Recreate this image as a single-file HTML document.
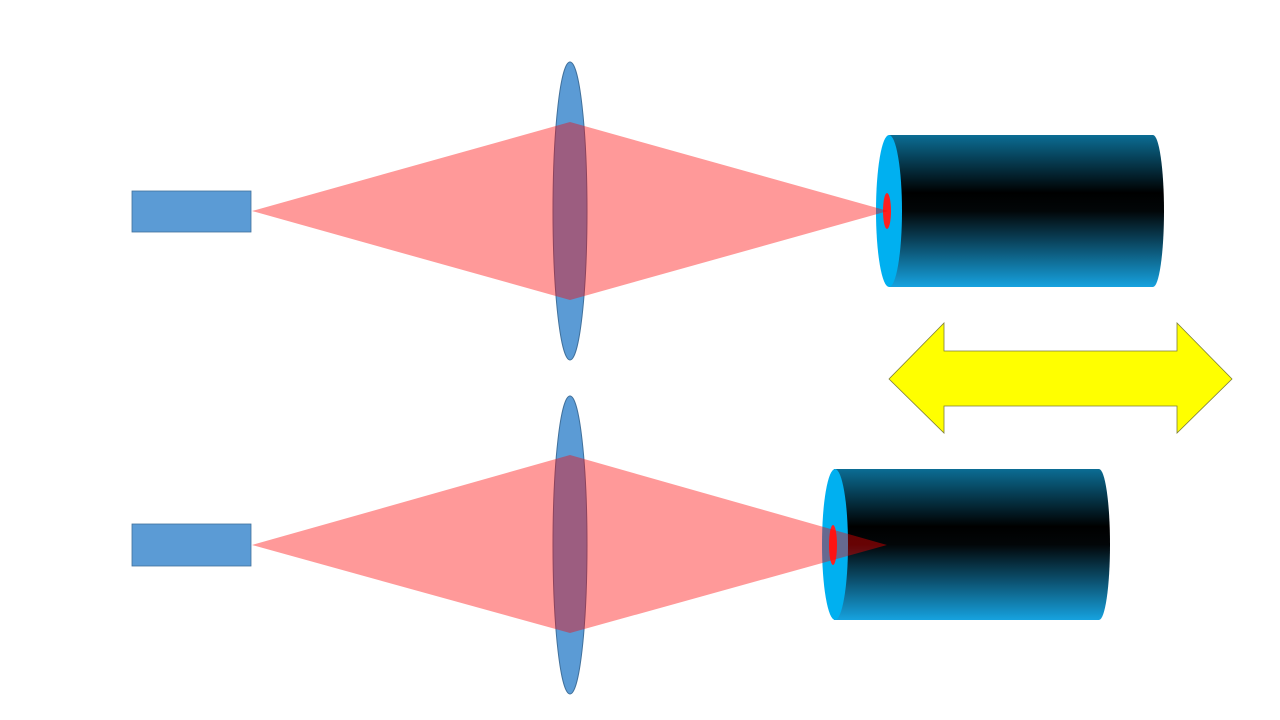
<!DOCTYPE html>
<html><head><meta charset="utf-8"><style>html,body{margin:0;padding:0;background:#fff}svg{display:block}</style></head>
<body>
<svg width="1280" height="720" viewBox="0 0 1280 720" xmlns="http://www.w3.org/2000/svg">
<defs>
<linearGradient id="cyl" x1="0" y1="0" x2="0" y2="1">
<stop offset="0" stop-color="#0b6d94"/>
<stop offset="0.38" stop-color="#000"/>
<stop offset="0.5" stop-color="#020608"/>
<stop offset="1" stop-color="#16a2df"/>
</linearGradient>
</defs>
<!-- sources -->
<rect x="132" y="191" width="119" height="41" fill="#5b9bd5" stroke="#41719c" stroke-width="0.8"/>
<rect x="132" y="524" width="119" height="42" fill="#5b9bd5" stroke="#41719c" stroke-width="0.8"/>
<!-- cylinders -->
<path d="M889,135 L1153,135 A11,76 0 0 1 1153,287 L889,287 Z" fill="url(#cyl)"/>
<ellipse cx="889" cy="211" rx="13" ry="76" fill="#00b0f0"/>
<ellipse cx="887" cy="211" rx="4" ry="18" fill="#ff2020"/>
<path d="M834,469 L1099,469 A11,75.5 0 0 1 1099,620 L834,620 Z" fill="url(#cyl)"/>
<ellipse cx="835" cy="544.5" rx="13" ry="75.5" fill="#00b0f0"/>
<ellipse cx="833" cy="545" rx="4" ry="20" fill="#ff2020"/>
<!-- lenses -->
<ellipse cx="570" cy="211" rx="17" ry="149" fill="#5b9bd5" stroke="#41719c" stroke-width="1"/>
<ellipse cx="570" cy="545" rx="17" ry="149" fill="#5b9bd5" stroke="#41719c" stroke-width="1"/>
<!-- beams -->
<polygon points="252,211 570,122 888,211 570,300" fill="#ff0000" fill-opacity="0.4"/>
<polygon points="252,545 570,455 887,545 570,633" fill="#ff0000" fill-opacity="0.4"/>
<!-- arrow -->
<polygon points="889,379 944,323 944,351 1177,351 1177,323 1232,379 1177,433 1177,406 944,406 944,433" fill="#ffff00" stroke="#7f7f3a" stroke-width="0.8"/>
</svg>
</body></html>
